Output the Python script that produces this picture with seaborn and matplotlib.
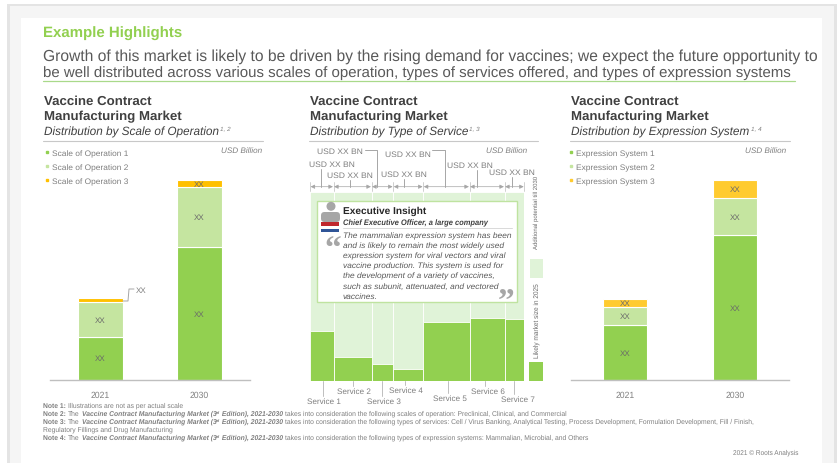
import matplotlib
matplotlib.use("Agg")
import matplotlib.pyplot as plt
import seaborn as sns
import numpy as np
from matplotlib.lines import Line2D
from matplotlib.patches import Rectangle, Circle, FancyBboxPatch

# -------- DATA --------
years = ["2021", "2030"]

scale_labels = ["Scale of Operation 1", "Scale of Operation 2", "Scale of Operation 3"]
scale_1 = [43.3, 133]
scale_2 = [34.4, 59.7]
scale_3 = [4, 7.4]

system_labels = ["Expression System 1", "Expression System 2", "Expression System 3"]
system_1 = [54.6, 144.6]
system_2 = [18.3, 37.3]
system_3 = [8, 17.7]

service_widths = [23.5, 38, 21.7, 30, 46.3, 35, 19.8]
service_likely = [50, 24, 17, 12, 59, 63, 62]
service_total = [188.7] * 7

service_names = ["Service 1", "Service 2", "Service 3", "Service 4", "Service 5", "Service 6", "Service 7"]

body_lines = [
    "The mammalian expression system has been",
    "and is likely to remain the most widely used",
    "expression system for viral vectors and viral",
    "vaccine production. This system is used for",
    "the development of a variety of vaccines,",
    "such as subunit, attenuated, and vectored",
    "vaccines.",
]

GREEN = "#92d050"
LIGHT = "#c5e5a0"
PALE = "#e0f3d8"
AMBER = "#ffc000"
AMBER2 = "#ffcb2f"
GREY = "#7f7f7f"
DARK = "#404040"

W, H = 838, 464

sns.set_theme(style="white")
plt.rcParams["font.family"] = ["Liberation Sans", "DejaVu Sans"]
plt.rcParams["text.hinting"] = "no_hinting"

fig = plt.figure(figsize=(W / 100, H / 100), dpi=100, facecolor="white")


def pixel_axes(x0, y0, x1, y1, z=1):
    ax = fig.add_axes([x0 / W, 1 - y1 / H, (x1 - x0) / W, (y1 - y0) / H], zorder=z)
    ax.patch.set_alpha(0)
    return ax


# -------- FRAME --------
bg = pixel_axes(0, 0, W, H, z=0)
bg.set_xlim(0, W)
bg.set_ylim(H, 0)
bg.axis("off")
bg.add_patch(Rectangle((7, 5), 830, 460, color="#e4e4e4", lw=0))
bg.add_patch(Rectangle((10, 7), 824, 460, color="#f5f5f5", lw=0))
bg.add_patch(Rectangle((21, 19), 801, 450, color="white", lw=0))


# -------- STACKED CHARTS --------
def stacked(ax, s1, s2, s3, width, top_col):
    bottom = np.zeros(2)
    for vals, col in zip([s1, s2, s3], [GREEN, LIGHT, top_col]):
        sns.barplot(x=years, y=vals, bottom=bottom, color=col, width=width, saturation=1,
                    edgecolor="white", linewidth=0.8, ax=ax)
        for i in range(2):
            if vals[i] > 5:
                ax.text(i, bottom[i] + vals[i] / 2, "XX", ha="center", va="center",
                        fontsize=5.8, color="#6a6a6a")
        bottom = bottom + np.array(vals)
    ax.set_ylim(0, 251)
    ax.set_yticks([])
    ax.set_ylabel("")
    ax.set_xlabel("")
    ax.tick_params(axis="x", length=0, labelsize=6.2, labelcolor=GREY, pad=7.5)
    sns.despine(ax=ax, left=True)
    ax.spines["bottom"].set_color("#bfbfbf")
    ax.spines["bottom"].set_linewidth(1)


left = pixel_axes(50, 130, 250, 381)
stacked(left, scale_1, scale_2, scale_3, 45 / 99, AMBER)
left.set_xlim(-50.5 / 99, 1 + 50.5 / 99)

right = pixel_axes(571, 130, 789, 381)
stacked(right, system_1, system_2, system_3, 43.5 / 110, AMBER2)
right.set_xlim(-54 / 110, 1 + 54 / 110)

for labels, x0, top_col in [(scale_labels, 44, AMBER), (system_labels, 568.5, AMBER2)]:
    handles = [Line2D([], [], ls="", marker="s", ms=2, color=c, label=l)
               for c, l in zip([GREEN, LIGHT, top_col], labels)]
    fig.legend(handles=handles, loc="upper left", bbox_to_anchor=(x0 / W, 1 - 150.5 / H),
               frameon=False, fontsize=6, labelcolor=GREY, labelspacing=0.78,
               handletextpad=0.3, borderpad=0, borderaxespad=0, handlelength=0.6)

# -------- SERVICE CHART --------
mid = pixel_axes(310, 150, 524.3, 381.7)
edges = np.concatenate([[0], np.cumsum(service_widths)[:-1]])
mid.bar(edges, service_total, width=service_widths, align="edge", color=PALE,
        edgecolor="white", linewidth=0.6)
mid.bar(edges, service_likely, width=service_widths, align="edge", color=GREEN,
        edgecolor="white", linewidth=0.6)
mid.set_xlim(0, sum(service_widths))
mid.set_ylim(0, 231.7)
mid.axis("off")

# -------- OVERLAY --------
fg = pixel_axes(0, 0, W, H, z=5)
fg.set_xlim(0, W)
fg.set_ylim(H, 0)
fg.axis("off")


def txt(x, y, s, size=6.5, color=GREY, weight="normal", style="normal", ha="left", va="center", **kw):
    return fg.text(x, y + 1.2, s, fontsize=size, color=color, weight=weight, style=style, ha=ha, va=va, **kw)


def seg(xs, ys, color="#a6a6a6", lw=0.7):
    fg.add_line(Line2D(xs, ys, color=color, lw=lw))


# header
txt(43, 33, "Example Highlights", size=10.8, color="#92d050", weight="bold")
txt(43, 55, "Growth of this market is likely to be driven by the rising demand for vaccines; we expect the future opportunity to",
    size=11.25, color="#595959")
txt(43, 71.5, "be well distributed across various scales of operation, types of services offered, and types of expression systems",
    size=10.8, color="#595959")
seg([43, 795], [82, 82], color="#a9d98a", lw=0.9)

# panel titles
panels = [
    (43.5, 263, "Distribution by Scale of Operation", 220, "1, 2"),
    (309.5, 538, "Distribution by Type of Service", 469, "1, 3"),
    (570.5, 790, "Distribution by Expression System", 751, "1, 4"),
]
for x0, x1, sub, sx, sup in panels:
    txt(x0, 100.5, "Vaccine Contract", size=9.5, color=DARK, weight="bold")
    txt(x0, 116, "Manufacturing Market", size=9.5, color=DARK, weight="bold")
    txt(x0, 131, sub, size=8.45, color=DARK, style="italic")
    txt(sx, 127.5, sup, size=4.6, color=GREY, style="italic")
    seg([x0 - 1, x1], [141.5, 141.5], color="#c8c8c8", lw=0.8)

txt(262, 150, "USD Billion", size=5.9, style="italic", ha="right")
txt(527, 150, "USD Billion", size=5.9, style="italic", ha="right")
txt(786, 150, "USD Billion", size=5.9, style="italic", ha="right")

# left callout
seg([123, 128, 129, 134], [302, 302, 290, 290], color="#a6a6a6")
txt(136, 290, "XX", size=5.8)

# dimension line over the service columns
dim_y = 187.7
bounds = 310 + np.concatenate([[0], np.cumsum(service_widths)])
for a, b in zip(bounds[:-1], bounds[1:]):
    fg.annotate("", xy=(a + 0.6, dim_y), xytext=(b - 0.6, dim_y),
                arrowprops=dict(arrowstyle="<|-|>,head_length=0.2,head_width=0.1", color="#a6a6a6", lw=0.5,
                                shrinkA=0, shrinkB=0))
for b in bounds:
    seg([b, b], [183, 192], color="#c8c8c8", lw=0.6)

usd_labels = [(339.5, 151), (332, 164), (350, 175), (408, 154), (404, 174), (470, 165), (512, 171.5)]
for x, y in usd_labels:
    txt(x, y, "USD XX BN", size=6.1, ha="center")
seg([365, 377.3, 377.3], [151, 151, dim_y])
seg([320.7, 320.7], [170, dim_y])
seg([350, 350], [181, dim_y])
seg([432, 445, 445], [151, 151, dim_y])
seg([404, 404], [180, dim_y])
seg([476.7, 476.7], [171, dim_y])
seg([512, 512], [178, dim_y])

# insight box
fg.add_patch(Rectangle((316.7, 201.7), 200, 101.6, facecolor="white", edgecolor="#bfe3a0", lw=1))
fg.add_patch(Circle((331, 207.3), 4.5, color="#a6a6a6", lw=0))
fg.add_patch(FancyBboxPatch((321, 213), 19, 10, boxstyle="round,pad=0,rounding_size=3.5", color="#a6a6a6", lw=0))
fg.add_patch(Rectangle((320.7, 222.7), 18.3, 4, color="#c0272d", lw=0))
fg.add_patch(Rectangle((320.7, 230), 18.3, 3.4, color="#2f5597", lw=0))
txt(343, 210, "Executive Insight", size=7.3, color="#262626", weight="bold")
txt(343, 222, "Chief Executive Officer, a large company", size=5.42, color=DARK, weight="bold", style="italic")
seg([343, 512], [228.5, 228.5], color="#d9d9d9", lw=0.7)
for i, line in enumerate(body_lines):
    txt(343, 235.5 + i * 10, line, size=6, color="#595959", style="italic")
txt(324, 249, "\u201c", size=24, color="#a6a6a6", weight="bold", family="Liberation Serif")
txt(498, 302, "\u201d", size=24, color="#a6a6a6", weight="bold", family="Liberation Serif")

# side key
fg.add_patch(Rectangle((530, 260), 12.5, 19, color=PALE, lw=0))
fg.add_patch(Rectangle((529, 363), 14, 18.5, color=GREEN, lw=0))
fg.text(536.5, 212, "Additional potential till 2030", fontsize=4.35, rotation=90, ha="center", va="center", color="#6a6a6a")
fg.text(536.5, 321, "Likely market size in 2025", fontsize=4.7, rotation=90, ha="center", va="center", color="#6a6a6a")

# service labels
service_spots = [(324, 401, 323), (354, 390.5, 352.5), (384, 401, 381.5), (406, 389.5, 405),
                 (450, 397.5, 447.5), (488, 390.5, 485), (518, 399, 514)]
for name, (x, y, lx) in zip(service_names, service_spots):
    txt(x, y, name, size=5.9, ha="center")
    seg([lx, lx], [382, y - 4], color="#bfbfbf", lw=0.7)

# notes
fs = 4.83
bk = 4.88
txt(43, 405, "Note 1:", size=fs, weight="bold")
txt(68, 405, "Illustrations are not as per actual scale", size=fs)
notes = [
    (413, "Note 2:", "takes into consideration the following scales of operation: Preclinical, Clinical, and Commercial"),
    (421, "Note 3:", "takes into consideration the following types of services: Cell / Virus Banking, Analytical Testing, Process Development, Formulation Development, Fill / Finish,"),
    (437, "Note 4:", "takes into consideration the following types of expression systems: Mammalian, Microbial, and Others"),
]
rend = fig.canvas.get_renderer()
for y, head, tail in notes:
    txt(43, y, head, size=fs, weight="bold")
    txt(67.5, y, "The", size=fs)
    a = txt(81.5, y, "Vaccine Contract Manufacturing Market (3", size=bk, weight="bold", style="italic")
    xa = a.get_window_extent(rend).x1
    b = txt(xa, y - 1.2, "rd", size=3, weight="bold", style="italic")
    xb = b.get_window_extent(rend).x1
    txt(xb, y, " Edition), 2021-2030", size=bk, weight="bold", style="italic")
    txt(285, y, tail, size=fs)
txt(43, 429, "Regulatory Fillings and Drug Manufacturing", size=fs)
txt(798, 452, "2021 \u00a9 Roots Analysis", size=4.7, ha="right")

fig.savefig("out.png", dpi=100)
